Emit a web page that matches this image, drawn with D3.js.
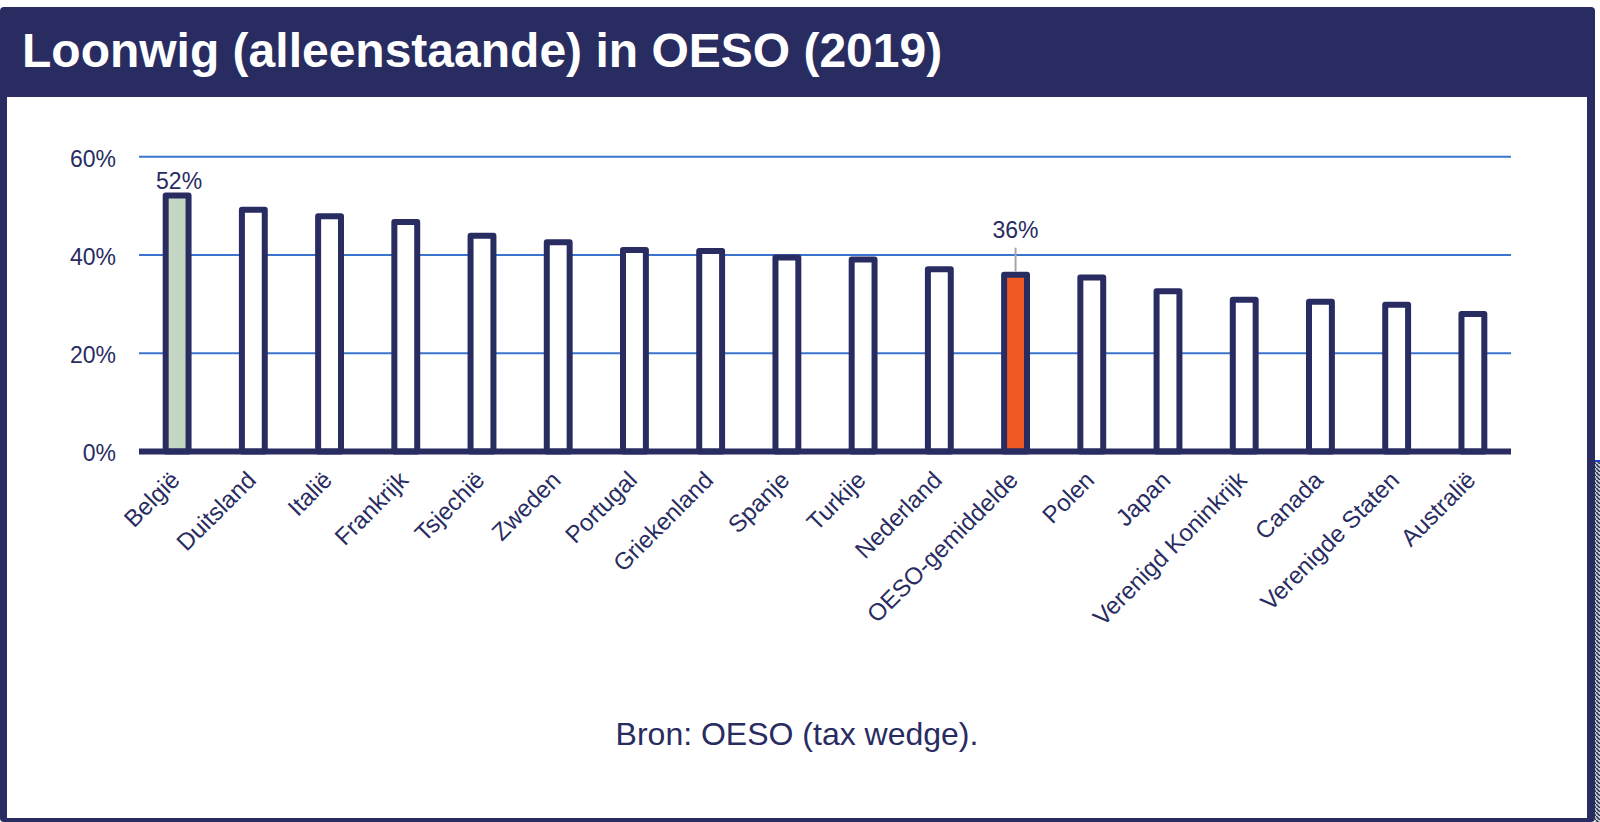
<!DOCTYPE html>
<html>
<head>
<meta charset="utf-8">
<script src="https://cdn.jsdelivr.net/npm/d3@7"></script>
<style>
  html, body { margin: 0; padding: 0; background: #fff; }
  svg { display: block; }
</style>
</head>
<body>
<div id="chart"></div>
<script>
// data
const countries = ["België", "Duitsland", "Italië", "Frankrijk", "Tsjechië", "Zweden", "Portugal",
  "Griekenland", "Spanje", "Turkije", "Nederland", "OESO-gemiddelde", "Polen", "Japan",
  "Verenigd Koninkrijk", "Canada", "Verenigde Staten", "Australië"];
const wedge = [52.1, 49.2, 47.9, 46.7, 43.9, 42.6, 41.0, 40.8, 39.5, 39.1, 37.1, 36.0, 35.4, 32.6, 30.9, 30.5, 29.9, 28.0];
const yTicks = [0, 20, 40, 60];
const labelled = {"België": "52%", "OESO-gemiddelde": "36%"};

const navy = "#282c61";
const width = 1600, height = 822;

const svg = d3.select("#chart").append("svg")
    .attr("width", width)
    .attr("height", height)
    .style("font-family", "'Liberation Sans', Arial, sans-serif");

// frame: navy box with header strip, white panel inside
svg.append("rect")
    .attr("x", 0).attr("y", 7)
    .attr("width", 1595).attr("height", 815)
    .attr("rx", 4)
    .attr("fill", navy);
svg.append("rect")
    .attr("x", 7).attr("y", 97)
    .attr("width", 1580).attr("height", 721)
    .attr("fill", "#fff");

// odd hatched strip on the far right edge
const defs = svg.append("defs");
const pat = defs.append("pattern")
    .attr("id", "hatch").attr("width", 4).attr("height", 4)
    .attr("patternUnits", "userSpaceOnUse");
pat.append("rect").attr("width", 4).attr("height", 4).attr("fill", "#c7d6c4");
pat.append("path").attr("d", "M0,0L4,4").attr("stroke", navy).attr("stroke-width", 1.5);
svg.append("rect")
    .attr("x", 1595).attr("y", 460).attr("width", 5).attr("height", 362)
    .attr("fill", "url(#hatch)");
svg.append("rect")
    .attr("x", 1595).attr("y", 460).attr("width", 5).attr("height", 2)
    .attr("fill", "#1f3fd0");

svg.append("text")
    .attr("x", 22).attr("y", 67)
    .attr("fill", "#fff")
    .style("font-size", "48px")
    .style("font-weight", "bold")
    .text("Loonwig (alleenstaande) in OESO (2019)");

const x = d3.scaleBand()
    .domain(countries)
    .range([139, 1511])
    .paddingInner(0.7)
    .paddingOuter(0.35);

const y = d3.scaleLinear()
    .domain([0, 60])
    .range([451.6, 156.7]);

// gridlines
svg.append("g")
    .selectAll("line")
    .data(yTicks.filter(d => d > 0))
    .join("line")
      .attr("x1", 139).attr("x2", 1511)
      .attr("y1", d => y(d)).attr("y2", d => y(d))
      .attr("stroke", "#3b74cc")
      .attr("stroke-width", 2);

// y axis labels
const yAxis = g => g
    .attr("transform", "translate(116,2)")
    .call(d3.axisLeft(y).tickValues(yTicks).tickFormat(d => d + "%").tickSize(0))
    .call(g => g.select(".domain").remove())
    .call(g => g.selectAll("text")
        .attr("x", 0)
        .attr("fill", navy)
        .style("font-size", "23px")
        .style("font-family", "'Liberation Sans', Arial, sans-serif"));
svg.append("g").call(yAxis);

// bars
svg.append("g")
    .selectAll("rect")
    .data(countries)
    .join("rect")
      .attr("x", d => x(d))
      .attr("y", (d, i) => y(wedge[i]))
      .attr("width", x.bandwidth())
      .attr("height", (d, i) => y(0) - y(wedge[i]))
      .attr("fill", d => d === "België" ? "#c4d7c2" : d === "OESO-gemiddelde" ? "#f05a22" : "#fff")
      .attr("stroke", navy)
      .attr("stroke-width", 6)
      .attr("stroke-linejoin", "round");

// baseline
svg.append("line")
    .attr("x1", 139).attr("x2", 1511)
    .attr("y1", y(0)).attr("y2", y(0))
    .attr("stroke", navy)
    .attr("stroke-width", 6);

// category labels
const xAxis = g => g
    .attr("transform", `translate(0,${y(0)})`)
    .call(d3.axisBottom(x).tickSize(0))
    .call(g => g.select(".domain").remove())
    .call(g => g.selectAll("text")
        .attr("fill", navy)
        .attr("dy", null)
        .attr("y", 0)
        .attr("transform", "translate(4,30) rotate(-45)")
        .attr("text-anchor", "end")
        .style("font-size", "24px")
        .style("font-family", "'Liberation Sans', Arial, sans-serif"));
svg.append("g").call(xAxis);

// value labels
const cx = d => x(d) + x.bandwidth() / 2;
svg.append("text")
    .attr("x", cx("België") + 2)
    .attr("y", y(wedge[0]) - 7)
    .attr("text-anchor", "middle")
    .attr("fill", navy)
    .style("font-size", "23px")
    .text(labelled["België"]);

const oi = countries.indexOf("OESO-gemiddelde");
svg.append("line")
    .attr("x1", cx("OESO-gemiddelde")).attr("x2", cx("OESO-gemiddelde"))
    .attr("y1", y(wedge[oi]) - 27).attr("y2", y(wedge[oi]) - 3)
    .attr("stroke", "#a6a6a6")
    .attr("stroke-width", 2);
svg.append("text")
    .attr("x", cx("OESO-gemiddelde"))
    .attr("y", y(wedge[oi]) - 37)
    .attr("text-anchor", "middle")
    .attr("fill", navy)
    .style("font-size", "23px")
    .text(labelled["OESO-gemiddelde"]);

svg.append("text")
    .attr("x", 797).attr("y", 745)
    .attr("text-anchor", "middle")
    .attr("fill", navy)
    .style("font-size", "32px")
    .text("Bron: OESO (tax wedge).");
</script>
</body>
</html>
